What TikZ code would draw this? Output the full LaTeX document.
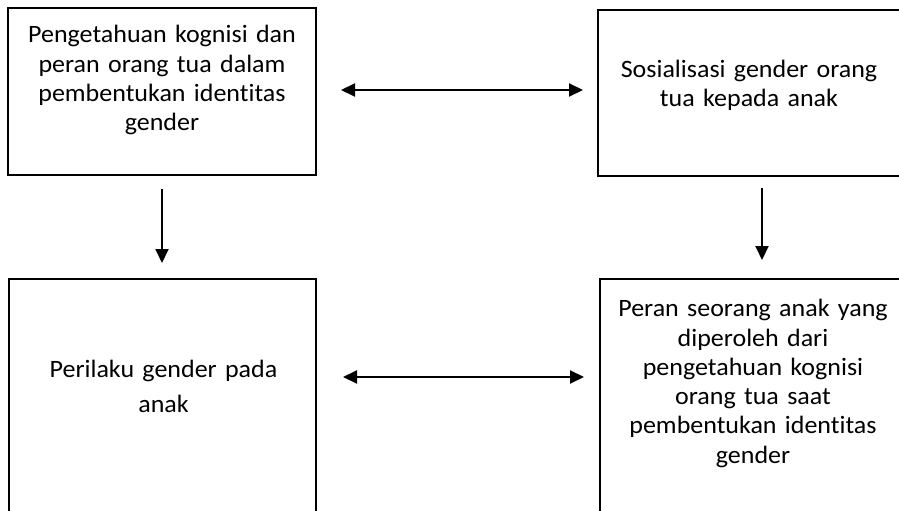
\documentclass[tikz,border=0pt]{standalone}
\usepackage{fontspec}
\setmainfont{Carlito}[Ligatures=NoCommon,FakeStretch=1.04]
\usetikzlibrary{arrows.meta}
\begin{document}
\begin{tikzpicture}[x=1pt,y=-1pt,
  box/.style={draw=black,line width=2pt,rectangle,inner sep=0pt,outer sep=0pt},
  txt/.style={text width=300pt,align=center,inner sep=0pt,anchor=base,font=\fontsize{25}{29.3}\selectfont},
  arr/.style={line width=2pt,-{Triangle[length=14pt,width=13pt]}},
  biarr/.style={line width=2pt,{Triangle[length=14pt,width=13pt]}-{Triangle[length=14pt,width=13pt]}}]
\useasboundingbox (0,0) rectangle (899,511);
\node[box,minimum width=308pt,minimum height=167pt] (b1) at (162,91.5) {};
\node[box,minimum width=307pt,minimum height=166pt] (b2) at (751.5,93) {};
\node[box,minimum width=307pt,minimum height=241pt] (b3) at (162.5,399.5) {};
\node[box,minimum width=305pt,minimum height=241pt] (b4) at (752.5,399.5) {};
\node[txt] (t1) at (162,42.7) {Pengetahuan kognisi dan\\peran orang tua dalam\\pembentukan identitas\\gender};
\node[txt] (t2) at (749,77.5) {Sosialisasi gender orang\\tua kepada anak};
\node[txt,font=\fontsize{25}{35.4}\selectfont] (t3) at (163.5,377.3) {Perilaku gender pada\\anak};
\node[txt] (t4) at (753,316.7) {Peran seorang anak yang\\diperoleh dari\\pengetahuan kognisi\\orang tua saat\\pembentukan identitas\\gender};
\coordinate (a1s) at (341,90);
\coordinate (a1e) at (583,90);
\coordinate (a2s) at (162,189);
\coordinate (a2e) at (162,263);
\coordinate (a3s) at (762,188);
\coordinate (a3e) at (762,260);
\coordinate (a4s) at (343,377);
\coordinate (a4e) at (584,377);
\draw[biarr] (a1s) -- (a1e);
\draw[arr] (a2s) -- (a2e);
\draw[arr] (a3s) -- (a3e);
\draw[biarr] (a4s) -- (a4e);
\end{tikzpicture}
\end{document}
